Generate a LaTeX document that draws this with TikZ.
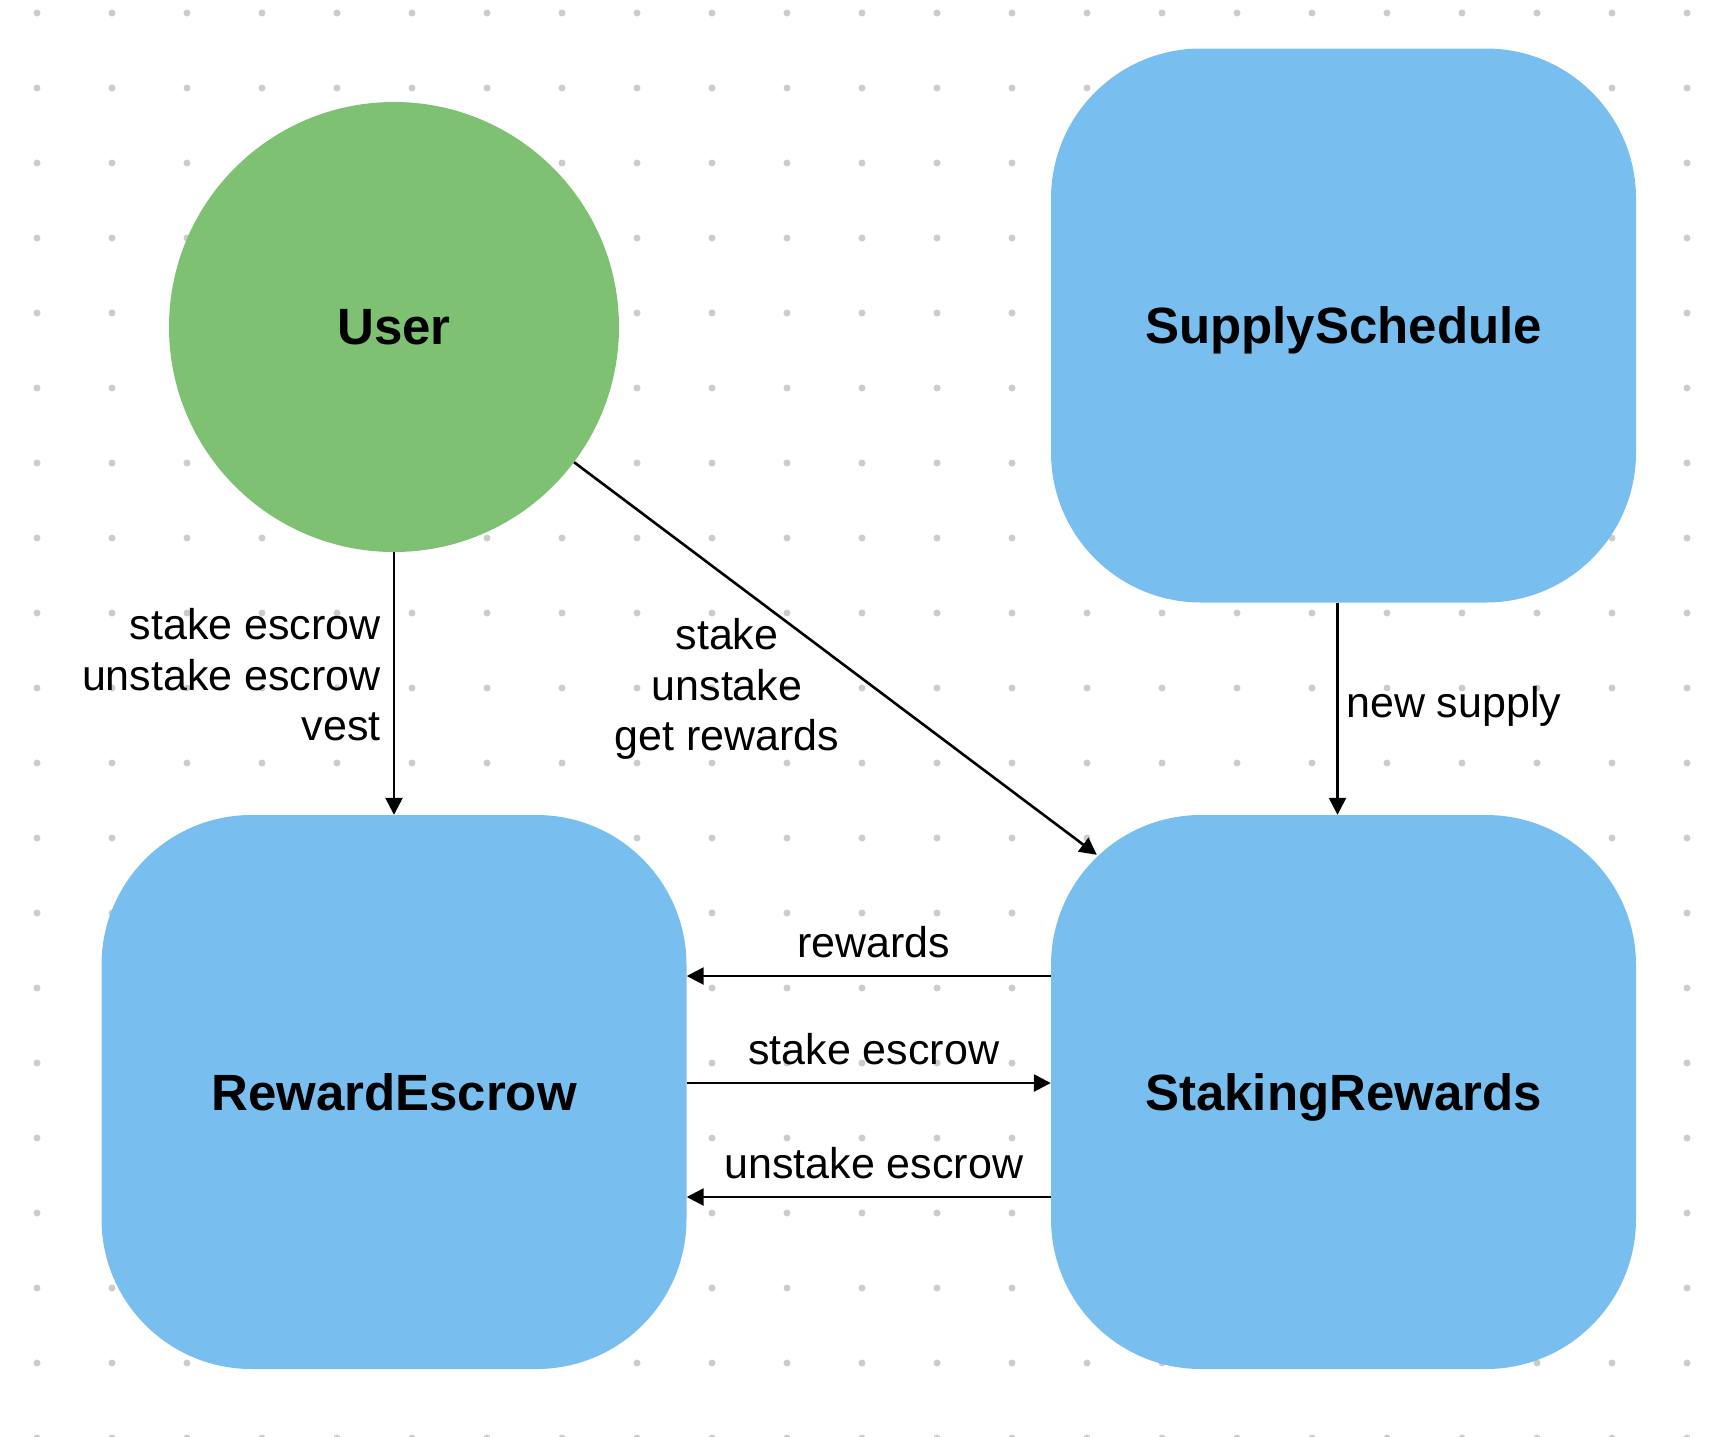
\documentclass[tikz,border=0pt]{standalone}
\usepackage{fontspec}
\setmainfont{Liberation Sans}
\usetikzlibrary{arrows.meta}
\definecolor{usergreen}{RGB}{126,193,114}
\definecolor{boxblue}{RGB}{120,191,240}
\definecolor{dotgray}{RGB}{204,204,204}

\begin{document}
\begin{tikzpicture}[x=1pt,y=-1pt,
	usernode/.style={circle,fill=usergreen,minimum size=450pt,inner sep=0pt,font=\fontsize{51}{60}\selectfont\bfseries},
	contract/.style={rectangle,rounded corners=150pt,fill=boxblue,minimum width=585pt,minimum height=554pt,inner sep=0pt,
		text height=36pt,text depth=0pt,font=\fontsize{51}{60}\selectfont\bfseries},
	lbl/.style={font=\fontsize{43}{50.5}\selectfont,inner sep=0pt},
	flow/.style={line width=2.6pt,-{Triangle[length=17pt,width=17pt]}},
	]
	\useasboundingbox (0,0) rectangle (1716,1436);
	% dot grid
	\foreach \i in {0,...,22}
		\foreach \j in {0,...,19}
			\fill[dotgray] (37+75*\i,13+75*\j) circle (3.5pt);
	\node (user) [usernode] at (394,327) {User};
	\node (supply) [contract] at (1343.5,325.5) {SupplySchedule};
	\node (escrow) [contract] at (394,1092) {RewardEscrow};
	\node (staking) [contract] at (1343.5,1092) {StakingRewards};
	\draw[flow] (user) -- (escrow);
	\draw[flow] (user) -- ([shift={(46,40)}]staking.north west);
	\draw[flow] ([xshift=-6pt]supply.south) -- ([xshift=-6pt]staking.north);
	\draw[flow] ([yshift=116pt]staking.west) -- ([yshift=116pt]escrow.east)
		node (rw) [lbl,midway,above=17pt,xshift=5pt] {rewards};
	\draw[flow] ([yshift=9pt]escrow.east) -- ([yshift=9pt]staking.west)
		node (se) [lbl,midway,above=17pt,xshift=5pt] {stake escrow};
	\draw[flow] ([yshift=-105pt]staking.west) -- ([yshift=-105pt]escrow.east)
		node (ue) [lbl,midway,above=17pt,xshift=5pt] {unstake escrow};
	% labels off the edges
	\node (escrowops) [lbl,align=right,anchor=east] at (381,675) {stake escrow\\unstake escrow\\vest};
	\node (stakeops) [lbl,align=center] at (727,689) {stake\\unstake\\get rewards};
	\node (supplyop) [lbl,anchor=west] at (1346,706) {new supply};
\end{tikzpicture}
\end{document}
